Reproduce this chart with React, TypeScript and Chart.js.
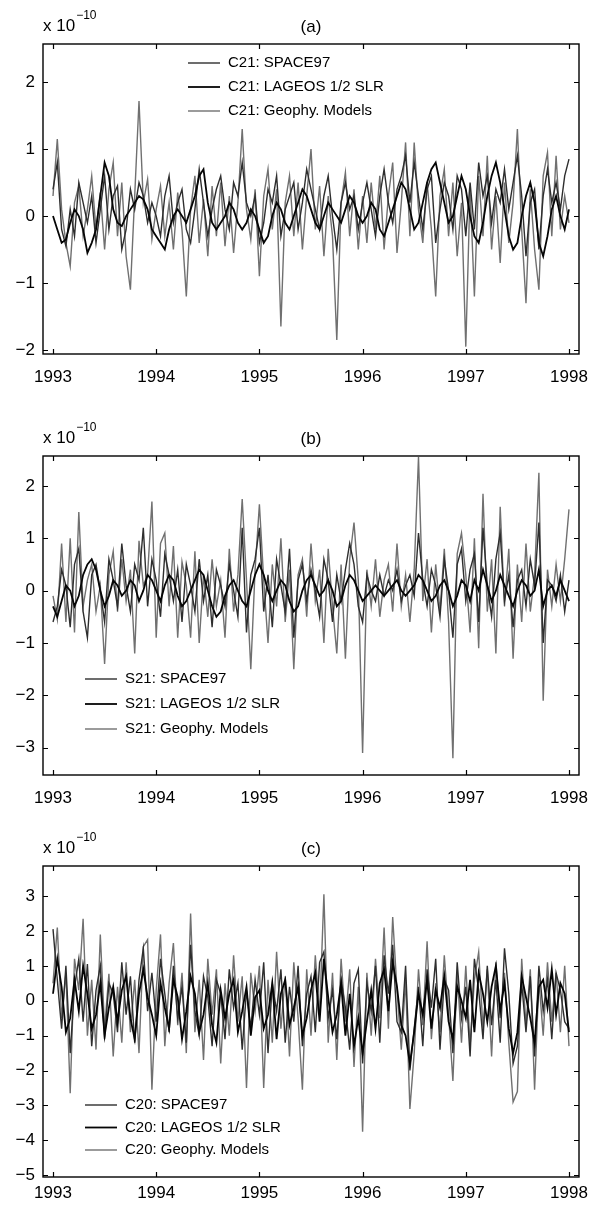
import React, { useEffect, useRef } from "react";
import { Chart, registerables } from "chart.js";

Chart.register(...registerables);

// ---------- DATA (units of 1e-10, sampled 24 times per year from 1993.0) ----------
const START_YEAR = 1993;
const STEPS_PER_YEAR = 24;
const yearTicks = [1993, 1994, 1995, 1996, 1997, 1998];

const c21Space97 = [
  0.4, 0.8, -0.2, -0.45, 0.1, -0.3, 0.5, 0.2, -0.1, 0.3, -0.4, 0.1, 0.6, -0.2, 0.3, 0.45, -0.5, -0.2, 0.4, 0.1, 0.5, 0.3, -0.1, 0.2,
  0.0, -0.3, 0.3, 0.6, -0.1, 0.2, 0.4, -0.2, -0.4, 0.1, 0.7, 0.2, -0.3, 0.1, 0.4, 0.6, 0.1, -0.2, 0.5, 0.3, 0.8, 0.2, 0.0, 0.3,
  -0.4, -0.1, 0.4, 0.2, 0.6, -0.3, 0.1, 0.3, 0.5, -0.2, 0.2, 0.7, 0.4, 0.1, -0.2, 0.3, 0.6, 0.0, -0.5, 0.2, 0.5, 0.1, 0.3, -0.2,
  0.2, 0.5, 0.1, -0.3, 0.3, 0.7, 0.2, -0.1, 0.4, 0.6, 0.9, 0.2, 0.8, 0.3, -0.2, 0.4, 0.6, -0.4, 0.1, 0.5, 0.3, -0.2, 0.6, 0.4,
  -0.3, 0.5, -0.2, 0.8, 0.3, 0.6, -0.1, 0.4, 0.2, 0.7, 0.1, 0.5, 0.9, 0.3, -0.6, 0.2, 0.4, -0.5, 0.3, 0.7, 0.2, 0.5, 0.1, 0.6, 0.85,
];
const c21Lageos = [
  0.0, -0.2, -0.4, -0.35, -0.1, 0.1, 0.0, -0.2, -0.55, -0.4, -0.2, 0.3, 0.8, 0.6, 0.1, -0.1, -0.15, 0.0, 0.1, 0.2, 0.3, 0.25, 0.1, -0.2,
  -0.3, -0.4, -0.5, -0.2, 0.0, 0.1, 0.0, -0.1, 0.1, 0.3, 0.6, 0.7, 0.2, -0.1, -0.2, -0.1, 0.0, 0.2, 0.1, -0.1, -0.2, -0.1, 0.1, 0.0,
  -0.2, -0.4, -0.3, 0.0, 0.2, 0.1, -0.1, -0.2, 0.0, 0.2, 0.4, 0.3, 0.1, -0.1, -0.2, 0.0, 0.2, 0.1, 0.0, -0.1, 0.1, 0.3, 0.2, 0.0,
  -0.1, 0.0, 0.2, 0.1, -0.2, -0.3, -0.1, 0.1, 0.3, 0.5, 0.4, 0.1, -0.2, -0.1, 0.2, 0.5, 0.7, 0.8, 0.5, 0.2, -0.1, 0.0, 0.3, 0.6,
  0.4, 0.0, -0.3, -0.4, -0.1, 0.3, 0.6, 0.8, 0.5, 0.1, -0.3, -0.5, -0.4, 0.0, 0.3, 0.5, 0.2, -0.4, -0.6, -0.3, 0.1, 0.3, 0.0, -0.2, 0.1,
];
const c21Geophy = [
  0.3, 1.15, 0.1, -0.4, -0.75, 0.2, 0.45, -0.3, 0.1, 0.6, -0.2, 0.35, -0.5, 0.4, 0.8, -0.3, 0.5, -0.6, -1.1, 0.3, 1.72, 0.2, 0.55, -0.35,
  0.1, 0.45, -0.3, 0.2, -0.5, 0.35, -0.2, -1.2, 0.1, 0.6, -0.4, 0.25, -0.6, 0.45, -0.3, 0.5, -0.45, 0.3, -0.55, 0.2, 1.3, 0.1, -0.35, 0.4,
  -0.9, 0.3, 0.7, -0.2, 0.4, -1.65, 0.2, 0.6, -0.3, 0.5, -0.5, 0.3, 1.0, -0.2, 0.45, -0.6, 0.3, -0.3, -1.85, 0.2, 0.65, -0.3, 0.4, -0.5,
  0.3, -0.4, 0.5, -0.2, 0.6, -0.5, 0.3, 0.8, -0.55, 0.2, 1.1, -0.3, 1.1, 0.1, -0.4, 0.5, -0.2, -1.2, 0.3, 0.7, -0.3, 0.5, -0.6, 0.2,
  -1.95, 0.4, -1.2, 0.6, -0.3, 0.9, -0.5, 0.3, -0.7, 0.5, -0.4, 0.2, 1.3, -0.2, -1.3, 0.4, -0.5, -1.1, 0.6, 0.95, -0.3, 0.9, -0.2, 0.3, -0.1,
];

const s21Space97 = [
  -0.6, -0.3, 0.4, 0.1, -0.7, 0.5, 0.8, -0.4, -0.9, 0.3, 0.5, 0.0, -0.6, 0.6, 0.2, -0.3, 0.9, 0.1, -0.4, 0.5, 0.2, 1.2, -0.3, 0.6,
  0.2, -0.5, 0.7, 0.3, -0.2, 0.4, -0.6, 0.5, 0.1, -0.4, 0.6, -0.2, 0.3, -0.7, 0.4, 0.1, -0.3, 0.5, 0.0, -0.5, 1.2, -0.8, 0.3, 0.6,
  1.2, -0.4, 0.3, -0.7, 0.6, 0.1, -0.4, 0.8, -0.9, 0.2, 0.5, -0.2, 0.4, 0.0, -0.5, 0.6, 0.2, -0.6, 0.3, -0.2, 0.4, 0.9, 0.5, -0.3,
  -0.6, 0.3, 0.0, -0.2, 0.3, -0.1, 0.2, 0.0, 0.4, -0.2, 0.1, 0.3, -0.1, 1.1, 0.2, -0.3, 0.4, 0.1, -0.5, 0.6, 0.0, -0.9, 0.5, 0.8,
  -0.2, 0.4, 0.7, -0.6, 1.2, 0.1, -0.5, 0.6, 1.1, -0.2, 0.3, -0.7, 0.2, 0.4, -0.3, 0.6, 0.1, 1.3, -1.0, 0.2, 0.1, -0.2, 0.3, -0.4, 0.2,
];
const s21Lageos = [
  -0.3, -0.5, -0.2, 0.1, 0.0, -0.3, -0.1, 0.3, 0.5, 0.6, 0.4, 0.0, -0.3, -0.1, 0.2, 0.1, -0.1, 0.0, 0.2, 0.1, -0.2, 0.0, 0.3, 0.2,
  0.0, -0.2, 0.1, 0.3, 0.2, -0.1, -0.3, -0.2, 0.0, 0.2, 0.4, 0.3, 0.0, -0.3, -0.5, -0.4, -0.1, 0.1, 0.2, 0.0, -0.2, -0.3, 0.0, 0.3,
  0.5, 0.3, 0.0, -0.2, 0.0, 0.2, 0.1, -0.2, -0.4, -0.3, 0.0, 0.2, 0.3, 0.1, -0.1, 0.0, 0.2, 0.0, -0.3, -0.2, 0.1, 0.3, 0.2, 0.0,
  -0.2, -0.1, 0.0, 0.1, 0.0, -0.1, 0.0, 0.1, 0.2, 0.0, -0.1, 0.0, 0.1, 0.3, 0.2, 0.0, -0.2, -0.1, 0.1, 0.2, 0.0, -0.3, -0.1, 0.2,
  0.1, -0.2, 0.2, 0.0, 0.4, 0.1, -0.2, 0.0, 0.3, 0.1, -0.1, -0.3, 0.0, 0.2, 0.1, -0.1, 0.0, 0.4, -0.3, 0.0, 0.1, -0.1, 0.2, 0.0, -0.2,
];
const s21Geophy = [
  -0.1, -0.55, 0.9, -0.6, 1.0, -0.8, 1.5, -0.3, 0.2, 0.5, -0.4, 0.1, -1.4, 0.3, 0.75, -0.4, 0.6, -0.2, 0.4, -1.2, 0.95, 0.1, 0.3, 1.7,
  -0.9, 0.9, 1.1, -0.3, 0.85, -0.9, 0.55, 0.1, -0.9, 0.75, -1.0, 0.3, -0.5, 0.6, -0.3, 0.2, -0.9, 0.8, -0.4, 0.3, 1.75, 0.2, -1.5, 0.4,
  1.65, 0.2, -1.0, 0.5, -0.3, 1.0, -0.6, 0.4, -1.5, 0.3, 0.6, -0.5, 0.9, -0.2, 0.4, -1.0, 0.8, -0.3, -1.2, 0.5, -1.3, 0.6, 1.3, 0.2,
  -3.1, 0.4, -0.3, 0.6, -0.5, 0.2, 0.5, -0.4, 0.9, -0.3, 0.3, -0.6, 0.4, 2.55, -0.2, 0.6, -0.8, 0.5, -0.4, 0.8, -0.6, -3.2, 0.7, 1.1,
  0.3, -0.8, 1.0, -1.1, 1.85, -0.4, 0.6, -1.2, 1.6, -0.3, 0.8, -1.3, 0.5, -0.6, 0.9, -0.4, 0.3, 2.25, -2.1, 0.4, -0.3, 0.5, -0.2, 0.6, 1.55,
];

const c20Space97 = [
  2.05, 0.6, -0.8, 1.0, -1.5, 0.4, 1.2, -0.6, 1.05, -1.3, 0.3, 1.0, -1.1, 0.5, 0.2, -0.9, 1.1, -0.4, 0.7, -1.2, 0.6, 1.5, -0.3, 0.8,
  -0.6, 1.2, 0.2, -0.9, 1.0, -0.5, 0.4, -1.2, 1.6, -0.3, -1.0, 0.7, 0.1, -1.3, 0.6, 0.2, -1.1, 0.9, -0.2, 0.5, -1.4, 0.3, -0.8, 0.6,
  -0.4, 1.1, -1.5, 0.5, -0.3, 0.9, -1.2, 0.4, -0.6, 1.0, -1.3, 0.2, 0.7, -0.9, 1.1, 1.4, -0.5, 0.3, -1.1, 0.6, -0.2, -1.4, 0.5, 0.9,
  -1.8, 0.5, -0.3, 1.0, -1.2, 1.3, 0.2, 1.6, -0.6, -0.9, 1.0, -2.0, -0.8, 0.4, -1.3, 0.9, -0.2, 1.2, -1.4, 0.6, 0.3, -1.5, 1.1, -0.5,
  0.4, -1.6, 1.2, 0.3, -1.1, 1.0, -0.7, 0.6, -1.2, 1.5, 0.2, -1.8, -1.3, 0.5, -0.9, 0.7, -1.6, 1.0, -0.3, 0.6, -1.1, 0.8, 0.3, -0.6, -0.8,
];
const c20Lageos = [
  0.2, 1.2, 0.4, -0.9, -0.5, 0.6, -0.3, 1.0, 0.2, -0.8, -0.4, 0.5, -1.0, -0.2, 0.4, -0.6, 0.3, 0.7, -0.5, -1.1, 0.2, 0.9, 0.1, -0.4,
  -1.0, 0.5, -0.2, -0.8, 0.6, 0.1, -1.1, -0.3, 0.7, 0.2, -0.9, -0.4, 0.5, -0.7, -1.2, 0.3, -0.5, 0.2, 0.6, -0.9, -0.3, 0.4, -1.0, 0.1,
  0.3, -0.8, -0.4, 0.5, -1.1, 0.2, 0.6, -0.7, -0.2, 0.4, -1.0, -0.5, 0.3, 0.8, -0.6, 1.2, 0.1, -0.9, -0.4, 0.5, -1.0, 0.2, -1.3, -0.5,
  -1.5, -0.6, 0.3, -0.8, 0.5, 0.9, -0.3, 1.1, 0.4, -0.7, -1.0, -1.8, -0.9, 0.2, -0.4, 0.6, -0.8, 0.3, -0.2, 0.7, -0.6, -1.1, 0.4, 0.0,
  -0.5, 0.6, -0.9, 0.8, 0.2, -0.6, 0.4, 1.0, -0.3, 0.5, -0.8, -1.5, -0.9, 0.7, 0.1, -0.5, -1.2, 0.4, 0.6, -0.2, 0.9, -0.4, 0.5, 0.2, -0.9,
];
const c20Geophy = [
  0.5, 2.1, -0.5, 0.8, -2.65, 1.2, 0.3, 2.35, -1.0, 0.6, -1.4, 1.9, -0.8, 0.77, -1.6, 0.4, -1.2, 1.1, -0.9, 0.6, -1.5, 1.55, 1.75, -2.55,
  0.3, 1.9, -1.3, 0.5, 1.65, -0.7, 0.8, -1.5, 2.5, -0.9, 0.6, -1.7, 1.2, -0.4, 0.9, -1.8, 0.5, -1.0, 1.3, -0.6, 0.7, -2.5, 0.8, -0.3,
  1.0, -2.5, 0.6, -1.2, 1.4, -0.8, 0.7, -1.6, 1.1, -0.5, -2.55, 0.9, -1.0, 1.3, -0.4, 3.05, -1.2, 0.8, -1.7, 1.2, -0.6, 0.9, -1.9, 0.4,
  -3.75, 0.8, -1.0, 1.2, -0.5, 2.1, -0.8, 2.4, 0.3, -1.4, 0.6, -3.1, -1.5, 0.9, -0.7, 1.7, -1.1, 0.5, -0.9, 1.3, -0.4, -2.3, 0.8, -1.2,
  1.0, -1.3, 0.6, 1.4, -0.8, 0.9, -1.6, 1.1, -0.5, 0.8, -1.2, -2.9, -2.6, 1.2, -0.7, 0.9, -2.55, 0.6, -1.0, 1.1, -0.6, 0.8, -0.9, 1.0, -1.3,
];

const c21Names = ["C21: SPACE97", "C21: LAGEOS 1/2 SLR", "C21: Geophy. Models"];
const s21Names = ["S21: SPACE97", "S21: LAGEOS 1/2 SLR", "S21: Geophy. Models"];
const c20Names = ["C20: SPACE97", "C20: LAGEOS 1/2 SLR", "C20: Geophy. Models"];

// ---------- STYLE / LAYOUT ----------
const FONT = '"Liberation Sans", Arial, Helvetica, sans-serif';
const seriesStyles = [
  { color: "#2e2e2e", width: 1.4, order: 1 },
  { color: "#050505", width: 1.8, order: 0 },
  { color: "#707070", width: 1.4, order: 2 },
];

const panels = [
  {
    key: "a", title: "(a)", canvasTop: 0, canvasH: 410, plotTop: 44, plotBottom: 354,
    yMin: -2.06, yMax: 2.57, xLabelPad: 13,
    legendX: 188, legendTop: 63, legendGap: 24,
    series: [c21Space97, c21Lageos, c21Geophy], names: c21Names,
  },
  {
    key: "b", title: "(b)", canvasTop: 410, canvasH: 410, plotTop: 456, plotBottom: 775,
    yMin: -3.52, yMax: 2.57, xLabelPad: 13,
    legendX: 85, legendTop: 679, legendGap: 25,
    series: [s21Space97, s21Lageos, s21Geophy], names: s21Names,
  },
  {
    key: "c", title: "(c)", canvasTop: 820, canvasH: 387, plotTop: 866, plotBottom: 1177,
    yMin: -5.05, yMax: 3.86, xLabelPad: 6,
    legendX: 85, legendTop: 1105, legendGap: 22.5,
    series: [c20Space97, c20Lageos, c20Geophy], names: c20Names,
  },
];

const PLOT_LEFT = 43;
const PLOT_RIGHT = 579;
const CANVAS_W = 606;

const toPoints = (values: number[]) =>
  values.map((v, i) => ({ x: START_YEAR + i / STEPS_PER_YEAR, y: v }));

const fmtNum = (v: number) => (v < 0 ? "\u2212" + Math.abs(v) : String(v));

const decorPlugin = {
  id: "decor",
  afterDraw(chart: any, _args: any, opts: any) {
    const { ctx, chartArea: a, scales } = chart;
    const xs = scales.x;
    const ys = scales.y;
    ctx.save();
    // frame box
    ctx.strokeStyle = "#000";
    ctx.lineWidth = 1.4;
    ctx.strokeRect(a.left, a.top, a.right - a.left, a.bottom - a.top);
    // inward ticks on all four sides
    const L = 5;
    ctx.lineWidth = 1.2;
    ctx.beginPath();
    xs.ticks.forEach((t: any) => {
      const px = Math.round(xs.getPixelForValue(t.value)) + 0.5;
      ctx.moveTo(px, a.bottom); ctx.lineTo(px, a.bottom - L);
      ctx.moveTo(px, a.top); ctx.lineTo(px, a.top + L);
    });
    ys.ticks.forEach((t: any) => {
      const py = Math.round(ys.getPixelForValue(t.value)) + 0.5;
      ctx.moveTo(a.left, py); ctx.lineTo(a.left + L, py);
      ctx.moveTo(a.right, py); ctx.lineTo(a.right - L, py);
    });
    ctx.stroke();
    // header: panel title and exponent
    ctx.fillStyle = "#000";
    ctx.font = `17px ${FONT}`;
    ctx.textBaseline = "middle";
    ctx.textAlign = "center";
    ctx.fillText(opts.title, (a.left + a.right) / 2, a.top - 17);
    ctx.textAlign = "left";
    ctx.fillText("x 10", a.left, a.top - 18);
    const w = ctx.measureText("x 10").width;
    ctx.font = `12px ${FONT}`;
    ctx.fillText("\u221210", a.left + w + 1, a.top - 28);
    // legend
    ctx.font = `15px ${FONT}`;
    chart.data.datasets.forEach((ds: any, i: number) => {
      const y = opts.legendTop + i * opts.legendGap;
      ctx.strokeStyle = ds.borderColor;
      ctx.lineWidth = ds.borderWidth;
      ctx.beginPath();
      ctx.moveTo(opts.legendX, y);
      ctx.lineTo(opts.legendX + 32, y);
      ctx.stroke();
      ctx.fillText(ds.label, opts.legendX + 40, y);
    });
    ctx.restore();
  },
};

function Panel({ cfg }: { cfg: any }) {
  const ref = useRef<HTMLCanvasElement | null>(null);
  useEffect(() => {
    if (!ref.current) return;
    const xAxisH = cfg.canvasTop + cfg.canvasH - cfg.plotBottom;
    const chart = new Chart(ref.current, {
      type: "line",
      data: {
        datasets: cfg.series.map((vals: number[], i: number) => ({
          label: cfg.names[i],
          data: toPoints(vals),
          borderColor: seriesStyles[i].color,
          borderWidth: seriesStyles[i].width,
          order: seriesStyles[i].order,
          pointRadius: 0,
          tension: 0,
          fill: false,
        })),
      },
      options: {
        animation: false,
        responsive: false,
        devicePixelRatio: 1,
        events: [],
        layout: {
          padding: { top: cfg.plotTop - cfg.canvasTop, right: CANVAS_W - PLOT_RIGHT, bottom: 0, left: 0 },
        },
        scales: {
          x: {
            type: "linear",
            min: 1992.903,
            max: 1998.097,
            grid: { display: false, drawTicks: false },
            border: { display: false },
            afterFit: (s: any) => { s.height = xAxisH; },
            ticks: {
              stepSize: 1,
              includeBounds: false,
              autoSkip: false,
              maxRotation: 0,
              padding: cfg.xLabelPad,
              color: "#000",
              font: { family: FONT, size: 17 },
              callback: (v: any) => String(v),
            },
            afterBuildTicks: (s: any) => {
              s.ticks = yearTicks.map((y) => ({ value: y }));
            },
          },
          y: {
            type: "linear",
            min: cfg.yMin,
            max: cfg.yMax,
            grid: { display: false, drawTicks: false },
            border: { display: false },
            afterFit: (s: any) => { s.width = PLOT_LEFT; },
            ticks: {
              stepSize: 1,
              includeBounds: false,
              padding: 8,
              color: "#000",
              font: { family: FONT, size: 17 },
              callback: (v: any) => fmtNum(Number(v)),
            },
          },
        },
        plugins: {
          legend: { display: false },
          tooltip: { enabled: false },
          title: { display: false },
          decor: {
            title: cfg.title,
            legendX: cfg.legendX,
            legendTop: cfg.legendTop - cfg.canvasTop,
            legendGap: cfg.legendGap,
          },
        } as any,
      },
      plugins: [decorPlugin],
    } as any);
    return () => chart.destroy();
  }, [cfg]);
  return (
    <canvas
      ref={ref}
      width={CANVAS_W}
      height={cfg.canvasH}
      style={{ position: "absolute", left: 0, top: cfg.canvasTop, display: "block" }}
    />
  );
}

export default function App() {
  return (
    <div
      style={{
        position: "absolute", left: 0, top: 0, width: CANVAS_W, height: 1207,
        background: "#fff", overflow: "hidden",
      }}
    >
      {panels.map((p) => (
        <Panel key={p.key} cfg={p} />
      ))}
    </div>
  );
}
